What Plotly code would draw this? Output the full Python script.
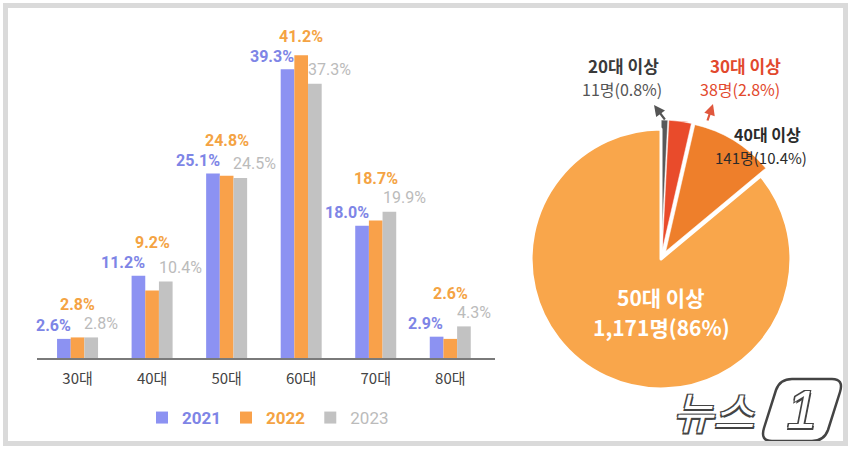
import plotly.graph_objects as go

W, H = 855, 451

# ---------------- data ----------------
categories = ["30대", "40대", "50대", "60대", "70대", "80대"]
years = ["2021", "2022", "2023"]
y2021 = [2.6, 11.2, 25.1, 39.3, 18.0, 2.9]
y2022 = [2.8, 9.2, 24.8, 41.2, 18.7, 2.6]
y2023 = [2.8, 10.4, 24.5, 37.3, 19.9, 4.3]

pie_labels = ["20대 이상", "30대 이상", "40대 이상", "50대 이상"]
pie_counts = [11, 38, 141, 1171]
pie_pcts = [0.8, 2.8, 10.4, 86]

# ---------------- styles ----------------
bar_colors = ["#8C92F2", "#F9A14A", "#C2C2C2"]
label_colors = ["#7E85E6", "#F4A343", "#BBBBBB"]
pie_colors = ["#58585A", "#E94B2B", "#EE7F2B", "#F9A64B"]
NUM = "Roboto, Liberation Sans Narrow, sans-serif"
KR = "Noto Sans CJK KR, Noto Sans, sans-serif"

def px(x):
    return x / W

def py(y):
    return 1 - y / H

BARGAP = 0.45
bw = (1 - BARGAP) / 3

fig = go.Figure()
series = [y2021, y2022, y2023]
for yr, vals, col, lc in zip(years, series, bar_colors, label_colors):
    weight = "<b>%s</b>" % yr if yr != "2023" else yr
    fig.add_trace(go.Bar(
        x=categories, y=vals, name="<span style='color:%s'>%s</span>" % (lc, weight),
        marker=dict(color=col, line=dict(width=0)),
        hoverinfo="skip",
    ))

annotations = []
for i in range(len(categories)):
    a, b, c = y2021[i], y2022[i], y2023[i]
    annotations.append(dict(
        x=i - bw / 2, y=a, xref="x", yref="y", text="<b>%.1f%%</b>" % a,
        xanchor="right", yanchor="middle", yshift=13, xshift=2, showarrow=False,
        font=dict(family=NUM, size=16, color=label_colors[0])))
    annotations.append(dict(
        x=i + bw / 2, y=c, xref="x", yref="y", text="%.1f%%" % c,
        xanchor="left", yanchor="middle", yshift=14, xshift=-2, showarrow=False,
        font=dict(family=NUM, size=16, color=label_colors[2])))
    top = max(a, b, c)
    highest = b > max(a, c)
    annotations.append(dict(
        x=i, y=top, xref="x", yref="y", text="<b>%.1f%%</b>" % b,
        xanchor="center", yanchor="middle", yshift=(19 if highest else 33),
        showarrow=False,
        font=dict(family=NUM, size=16, color=label_colors[1])))

# ---------------- pie ----------------
PULL = 0.07
fig.add_trace(go.Pie(
    labels=pie_labels, values=pie_counts, sort=False, direction="clockwise",
    rotation=0, pull=[PULL, PULL, PULL, 0], textinfo="none", hoverinfo="skip",
    marker=dict(colors=pie_colors, line=dict(color="white", width=[0.5, 0.5, 0.5, 3])),
    domain=dict(x=[px(522), px(800)], y=[py(398), py(120)]),
    showlegend=False,
))

def pie_txt(i):
    return "%s명(%s%%)" % (format(pie_counts[i], ","), format(pie_pcts[i], "g"))

def note(x, y, text, size, color):
    return dict(x=px(x), y=py(y), xref="paper", yref="paper", text=text,
                xanchor="center", yanchor="middle", showarrow=False,
                font=dict(family=KR, size=size, color=color))

annotations += [
    note(623, 65, "<b>%s</b>" % pie_labels[0], 17, "#3A3A3A"),
    note(622, 89, pie_txt(0), 16, "#555555"),
    note(745, 65, "<b>%s</b>" % pie_labels[1], 17, "#E2492D"),
    note(740, 89, pie_txt(1), 16, "#E2492D"),
    note(767, 134, "<b>%s</b>" % pie_labels[2], 16, "#2A2A2A"),
    note(761, 157, pie_txt(2), 15, "#2A2A2A"),
    note(661, 297, "<b>%s</b>" % pie_labels[3], 21, "white"),
    note(661, 327, "<b>%s</b>" % pie_txt(3), 21, "white"),
    dict(x=px(654), y=py(105), ax=12, ay=16, xref="paper", yref="paper",
         text="", showarrow=True, arrowhead=2,
         arrowsize=1, arrowwidth=2.2, arrowcolor="#555555"),
    dict(x=px(713), y=py(104), ax=-6, ay=18, xref="paper", yref="paper",
         text="", showarrow=True, arrowhead=2,
         arrowsize=1, arrowwidth=2.2, arrowcolor="#E0573D"),
]

outline = "-1.5px -1.5px 0 #444, 1.5px -1.5px 0 #444, -1.5px 1.5px 0 #444, 1.5px 1.5px 0 #444"
annotations += [
    dict(x=px(713), y=py(410), xref="paper", yref="paper", text="뉴스", showarrow=False,
         xanchor="center", yanchor="middle",
         font=dict(family=KR, size=44, color="white", style="italic", shadow=outline)),
    dict(x=px(802), y=py(409), xref="paper", yref="paper", text="1", showarrow=False,
         xanchor="center", yanchor="middle",
         font=dict(family="Liberation Sans, sans-serif", size=54, color="white",
                   style="italic", shadow=outline)),
]

def P(x, y):
    return "%.5f,%.5f" % (px(x), py(y))

oval = ("M " + P(792, 379) + " L " + P(832, 379) + " Q " + P(844, 379) + " " + P(840, 392) +
        " L " + P(828, 430) + " Q " + P(824, 441) + " " + P(812, 441) +
        " L " + P(772, 441) + " Q " + P(760, 441) + " " + P(764, 428) +
        " L " + P(776, 390) + " Q " + P(780, 379) + " " + P(792, 379) + " Z")

shapes = [
    dict(type="path", path=oval, xref="paper", yref="paper",
         line=dict(color="#444444", width=2.5), fillcolor="rgba(255,255,255,0)", layer="below"),
    dict(type="rect", xref="paper", yref="paper", x0=px(5.5), x1=px(845.5),
         y0=py(443.5), y1=py(5.5), line=dict(color="#DADADA", width=5)),
]

fig.update_layout(
    width=W, height=H, margin=dict(l=0, r=0, t=0, b=0),
    paper_bgcolor="white", plot_bgcolor="white",
    barmode="group", bargap=BARGAP, bargroupgap=0,
    xaxis=dict(domain=[px(37), px(495)], range=[-0.544, 5.6], showline=True,
               linecolor="#7A7A7A", linewidth=2, ticks="", showgrid=False,
               tickfont=dict(family=KR, size=15, color="#444444"),
               ticklabelstandoff=6, fixedrange=True),
    yaxis=dict(domain=[py(358), py(30)], range=[0, (358 - 30) / 7.35], visible=False,
               fixedrange=True),
    legend=dict(orientation="h", x=px(268), y=py(418), xanchor="center", yanchor="middle",
                font=dict(family=NUM, size=17), itemwidth=30, traceorder="normal",
                bgcolor="rgba(0,0,0,0)"),
    annotations=annotations,
    shapes=shapes,
)

fig.write_html("out.html")
